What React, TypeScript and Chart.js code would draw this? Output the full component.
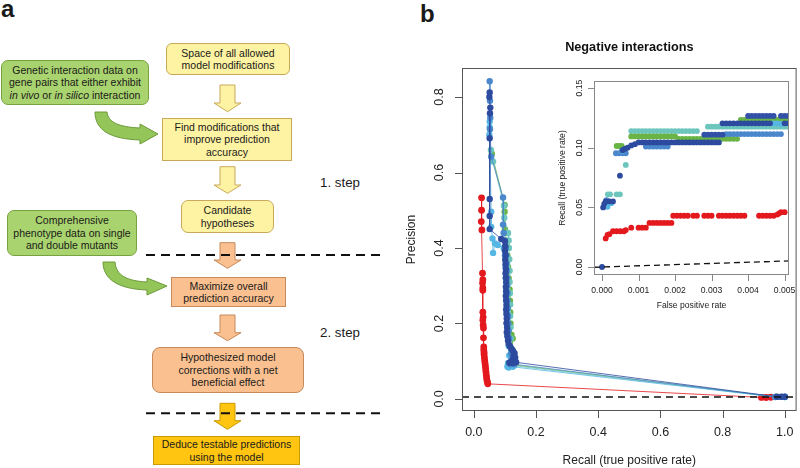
import React, { useEffect, useRef } from "react";
import { Chart, registerables } from "chart.js";

Chart.register(...registerables);

// ---------------- data ----------------
const mainXTicks = [0, 0.2, 0.4, 0.6, 0.8, 1.0];
const mainXTickLabels = ["0.0", "0.2", "0.4", "0.6", "0.8", "1.0"];
const mainYTicks = [0, 0.2, 0.4, 0.6, 0.8];
const mainYTickLabels = ["0.0", "0.2", "0.4", "0.6", "0.8"];
const mainXRange = [-0.038, 1.038];
const mainYRange = [-0.032, 0.877];
const baselinePrecision = 0.0048;

const insetXTicks = [0, 0.001, 0.002, 0.003, 0.004, 0.005];
const insetXTickLabels = ["0.000", "0.001", "0.002", "0.003", "0.004", "0.005"];
const insetYTicks = [0, 0.05, 0.1, 0.15];
const insetYTickLabels = ["0.00", "0.05", "0.10", "0.15"];
const insetXRange = [-0.00022, 0.00512];
const insetYRange = [-0.0067, 0.156];

// main plot: [recall, precision]
const mainRed: number[][] = [
  [0.025, 0.533], [0.025, 0.5], [0.024, 0.47], [0.026, 0.448],
  [0.028, 0.333], [0.029, 0.316], [0.028, 0.307], [0.029, 0.294], [0.029, 0.288],
  [0.029, 0.23], [0.03, 0.217], [0.029, 0.209], [0.03, 0.196], [0.031, 0.188],
  [0.031, 0.162], [0.032, 0.138], [0.032, 0.13], [0.033, 0.124], [0.033, 0.118], [0.034, 0.11],
  [0.035, 0.102], [0.036, 0.095], [0.037, 0.088], [0.038, 0.08], [0.039, 0.072], [0.04, 0.064],
  [0.041, 0.057], [0.042, 0.05], [0.044, 0.044], [0.045, 0.04],
  [0.925, 0.004], [0.94, 0.0038], [0.955, 0.0045],
];
const mainDarkA: number[][] = [
  [0.051, 0.812], [0.05, 0.8], [0.053, 0.772], [0.052, 0.757], [0.051, 0.691], [0.051, 0.53],
  [0.051, 0.485], [0.051, 0.45], [0.088, 0.424],
  [0.1, 0.418], [0.101, 0.405], [0.1, 0.393], [0.102, 0.381], [0.101, 0.369], [0.102, 0.357],
  [0.103, 0.345], [0.102, 0.333], [0.103, 0.321], [0.104, 0.309], [0.103, 0.297], [0.104, 0.285],
  [0.103, 0.273], [0.104, 0.261], [0.105, 0.249], [0.104, 0.237], [0.105, 0.225], [0.106, 0.213],
  [0.105, 0.201], [0.107, 0.189], [0.106, 0.177], [0.108, 0.166], [0.11, 0.155], [0.112, 0.146],
  [0.116, 0.139], [0.121, 0.133], [0.126, 0.127], [0.131, 0.121], [0.128, 0.115], [0.133, 0.11],
  [0.126, 0.105], [0.131, 0.101], [0.12, 0.098], [0.114, 0.096], [0.126, 0.095], [0.136, 0.097],
  [0.975, 0.0056], [0.99, 0.0056], [1.0, 0.0056],
];
const mainSteel: number[][] = [
  [0.051, 0.842], [0.052, 0.79], [0.053, 0.745], [0.052, 0.715], [0.056, 0.642], [0.094, 0.534],
  [0.094, 0.462], [0.096, 0.44], [0.1, 0.42], [0.103, 0.4], [0.104, 0.38], [0.105, 0.36],
  [0.106, 0.34], [0.107, 0.32], [0.107, 0.3], [0.108, 0.28], [0.108, 0.26], [0.109, 0.24],
  [0.11, 0.22], [0.111, 0.2], [0.112, 0.18], [0.114, 0.16], [0.117, 0.14], [0.12, 0.12],
  [0.122, 0.105], [0.118, 0.092], [0.13, 0.092], [0.97, 0.0054], [0.985, 0.0054], [1.0, 0.0054],
];
const mainSky: number[][] = [
  [0.051, 0.735], [0.051, 0.72], [0.05, 0.7], [0.056, 0.496], [0.056, 0.456], [0.06, 0.425],
  [0.062, 0.387], [0.068, 0.412], [0.077, 0.408], [0.096, 0.4], [0.1, 0.38], [0.102, 0.35],
  [0.103, 0.32], [0.104, 0.29], [0.105, 0.26], [0.106, 0.23], [0.107, 0.2], [0.109, 0.17],
  [0.112, 0.14], [0.114, 0.115], [0.11, 0.095], [0.108, 0.086], [0.112, 0.083], [0.125, 0.085],
  [0.97, 0.0052], [1.0, 0.0052],
];
const mainTeal: number[][] = [
  [0.055, 0.66], [0.062, 0.629], [0.097, 0.512], [0.098, 0.48], [0.11, 0.44], [0.112, 0.42],
  [0.113, 0.4], [0.114, 0.37], [0.115, 0.34], [0.115, 0.31], [0.116, 0.28], [0.117, 0.25],
  [0.117, 0.22], [0.118, 0.19], [0.119, 0.16], [0.12, 0.13], [0.122, 0.11], [0.118, 0.092],
  [0.128, 0.088], [0.97, 0.0053], [1.0, 0.0053],
];
const mainGreen: number[][] = [
  [0.058, 0.65], [0.099, 0.514], [0.099, 0.496], [0.1, 0.45], [0.102, 0.44], [0.105, 0.41],
  [0.108, 0.38], [0.11, 0.35], [0.112, 0.32], [0.115, 0.29], [0.116, 0.26], [0.117, 0.23],
  [0.118, 0.2], [0.121, 0.17], [0.125, 0.16], [0.124, 0.13], [0.127, 0.11], [0.13, 0.09],
  [0.975, 0.0055], [1.0, 0.0055],
];

// inset: [false positive rate, recall]
const insetRed: number[][] = [
  [0.0001, 0.024], [0.00015, 0.027], [0.0002, 0.0275],
  [0.0003, 0.03], [0.0004, 0.03], [0.0005, 0.03], [0.0006, 0.03], [0.00065, 0.031],
  [0.0008, 0.033], [0.001, 0.033], [0.0011, 0.033], [0.0012, 0.033],
  [0.0013, 0.037], [0.0014, 0.037], [0.0015, 0.037], [0.0016, 0.037], [0.0017, 0.037], [0.0018, 0.037], [0.0019, 0.037],
  [0.00195, 0.043], [0.00205, 0.043], [0.00215, 0.043], [0.00225, 0.043], [0.00235, 0.043], [0.0025, 0.043], [0.0026, 0.043],
  [0.0028, 0.043], [0.0029, 0.043], [0.003, 0.043], [0.0032, 0.043], [0.0033, 0.043], [0.0034, 0.043], [0.0035, 0.043],
  [0.0036, 0.043], [0.0037, 0.043], [0.0038, 0.043], [0.0039, 0.043],
  [0.0043, 0.043], [0.0044, 0.043], [0.0045, 0.043], [0.0046, 0.043], [0.0047, 0.043], [0.0048, 0.044],
  [0.00485, 0.045], [0.0049, 0.046], [0.005, 0.046],
];
const insetDarkA: number[][] = [
  [0, 0], [0.00003, 0.05], [0.00006, 0.053], [0.0001, 0.055], [0.0002, 0.055], [0.0003, 0.055],
  [0.00049, 0.0766],
  [0.00056, 0.098], [0.00062, 0.099], [0.0007, 0.1], [0.0008, 0.102], [0.0009, 0.103],
  [0.001, 0.1045], [0.0011, 0.1045], [0.0012, 0.1045], [0.0013, 0.1045], [0.0014, 0.1045], [0.0015, 0.1045],
  [0.0016, 0.1045], [0.0017, 0.1045], [0.0018, 0.1045], [0.0019, 0.1045], [0.002, 0.1045], [0.0021, 0.1045],
  [0.0022, 0.1045], [0.0023, 0.1045], [0.0024, 0.1045], [0.0025, 0.1045], [0.0026, 0.1045], [0.0027, 0.1045],
  [0.0028, 0.1045], [0.0029, 0.1045], [0.003, 0.1045], [0.0031, 0.1045], [0.0032, 0.1045],
  [0.0033, 0.1205], [0.0034, 0.1205], [0.0035, 0.1205], [0.0036, 0.1205], [0.0037, 0.1205], [0.0038, 0.1205],
  [0.0039, 0.1205], [0.004, 0.1205], [0.0041, 0.1205], [0.0042, 0.1205], [0.0043, 0.1205], [0.0044, 0.1205],
  [0.0045, 0.1205], [0.0046, 0.1205], [0.005, 0.1205], [0.0051, 0.1205],
];
const insetDarkB: number[][] = [
  [0.0028, 0.111], [0.0029, 0.111], [0.003, 0.111], [0.0031, 0.111], [0.0032, 0.111], [0.0033, 0.111],
  [0.004, 0.1267], [0.0041, 0.1267], [0.0042, 0.1267], [0.0043, 0.1267], [0.0044, 0.1267], [0.0045, 0.1267],
  [0.0046, 0.1267], [0.0047, 0.1267], [0.0049, 0.1267], [0.005, 0.1267], [0.0051, 0.1267],
];
const insetSteel: number[][] = [
  [0.00008, 0.052], [0.00012, 0.056], [0.00038, 0.0954], [0.00047, 0.0954], [0.00056, 0.0954], [0.00065, 0.0954],
  [0.0012, 0.101], [0.0013, 0.101], [0.0014, 0.101], [0.0015, 0.101], [0.0016, 0.101], [0.0017, 0.101], [0.0018, 0.101],
  [0.0034, 0.1115], [0.0035, 0.1115], [0.0036, 0.1115], [0.0037, 0.1115], [0.0038, 0.1115], [0.0039, 0.1115],
  [0.004, 0.1115], [0.0041, 0.1115], [0.0042, 0.1115], [0.0043, 0.1115], [0.0044, 0.1115], [0.0045, 0.1115],
  [0.0046, 0.1115], [0.0047, 0.1115], [0.0048, 0.1115], [0.0049, 0.1115],
];
const insetSky: number[][] = [
  [0.00015, 0.0505], [0.00025, 0.0535], [0.00055, 0.0975], [0.0047, 0.1205], [0.0048, 0.1205], [0.0049, 0.12],
];
const insetTeal: number[][] = [
  [0.00016, 0.061], [0.00022, 0.061], [0.0004, 0.061], [0.00049, 0.061], [0.00065, 0.0856],
  [0.0008, 0.114], [0.0009, 0.114], [0.001, 0.114], [0.0011, 0.114], [0.0012, 0.114], [0.0013, 0.114],
  [0.0014, 0.114], [0.0015, 0.114], [0.0016, 0.114], [0.0017, 0.114], [0.0018, 0.114], [0.0019, 0.114],
  [0.002, 0.114], [0.0021, 0.114], [0.0022, 0.114], [0.0023, 0.114], [0.0024, 0.114], [0.0025, 0.114], [0.0026, 0.114],
  [0.0029, 0.1177], [0.003, 0.1177], [0.0031, 0.1177], [0.0032, 0.1177], [0.0033, 0.1177], [0.0034, 0.1177],
  [0.0035, 0.1177], [0.0036, 0.1177], [0.0037, 0.1177], [0.0038, 0.1177], [0.0039, 0.1177], [0.004, 0.1177],
  [0.0041, 0.1177], [0.0042, 0.1177], [0.0043, 0.1177], [0.0044, 0.1177], [0.0045, 0.1177], [0.0046, 0.1177],
  [0.0047, 0.1177], [0.0048, 0.1177], [0.0049, 0.1177], [0.005, 0.1177], [0.0051, 0.1177],
];
const insetGreen: number[][] = [
  [0.0004, 0.1015], [0.00047, 0.1015], [0.00054, 0.1015],
  [0.0008, 0.1095], [0.0009, 0.1095], [0.001, 0.1095], [0.0011, 0.1095], [0.0012, 0.1095], [0.0013, 0.1095],
  [0.0014, 0.1095], [0.0015, 0.1095], [0.0016, 0.1095], [0.0017, 0.1095], [0.0018, 0.1095], [0.0019, 0.1095],
  [0.002, 0.1095], [0.0021, 0.1075], [0.0022, 0.1075], [0.0023, 0.1075], [0.0024, 0.1075], [0.0025, 0.1075],
  [0.0026, 0.1075], [0.0027, 0.1075], [0.0028, 0.1075], [0.0029, 0.1075], [0.003, 0.1075], [0.0031, 0.1075],
  [0.0032, 0.1075], [0.0033, 0.1075], [0.0034, 0.1075], [0.0035, 0.1075], [0.0036, 0.1075], [0.0037, 0.1075],
  [0.0038, 0.1233], [0.0039, 0.1233], [0.004, 0.1233], [0.0041, 0.1233], [0.0042, 0.1233], [0.0043, 0.1233],
  [0.0044, 0.1233], [0.0045, 0.1233], [0.0046, 0.1233], [0.0047, 0.1233], [0.0048, 0.1233], [0.0049, 0.1233],
  [0.005, 0.1233], [0.0051, 0.1233],
];

// ---------------- styling ----------------
const FONT = '"Liberation Sans", Arial, Helvetica, sans-serif';
const C_RED = "#E3191E";
const C_DARK = "#2C4A9E";
const C_DARK2 = "#3150A8";
const C_STEEL = "#4A87CC";
const C_SKY = "#56B7E4";
const C_TEAL = "#6DC6BD";
const C_GREEN = "#6AB446";

type Cfg = {
  xTicks: number[]; xTickLabels: string[]; yTicks: number[]; yTickLabels: string[];
  tickFont: string; labelFont: string; xTitle: string; yTitle: string;
  title?: string; titleFont?: string; titleY?: number;
  tickLen: number; xTickOff: number; xTitleOff: number; yTickOff: number; yTitleOff: number;
  frame: string;
};

function rAxes(cfg: Cfg) {
  return {
    id: "rAxes",
    afterDraw(chart: any) {
      const { ctx, chartArea: a, scales } = chart;
      const xs = scales.x;
      const ys = scales.y;
      ctx.save();
      ctx.strokeStyle = cfg.frame;
      ctx.lineWidth = 1;
      ctx.strokeRect(a.left + 0.5, a.top + 0.5, a.right - a.left - 1, a.bottom - a.top - 1);
      ctx.beginPath();
      cfg.xTicks.forEach((v) => {
        const px = Math.round(xs.getPixelForValue(v)) + 0.5;
        ctx.moveTo(px, a.bottom);
        ctx.lineTo(px, a.bottom + cfg.tickLen);
      });
      cfg.yTicks.forEach((v) => {
        const py = Math.round(ys.getPixelForValue(v)) + 0.5;
        ctx.moveTo(a.left, py);
        ctx.lineTo(a.left - cfg.tickLen, py);
      });
      ctx.stroke();
      ctx.fillStyle = "#222";
      ctx.textAlign = "center";
      ctx.textBaseline = "middle";
      ctx.font = cfg.tickFont;
      cfg.xTicks.forEach((v, i) => {
        ctx.fillText(cfg.xTickLabels[i], xs.getPixelForValue(v), a.bottom + cfg.xTickOff);
      });
      cfg.yTicks.forEach((v, i) => {
        ctx.save();
        ctx.translate(a.left - cfg.yTickOff, ys.getPixelForValue(v));
        ctx.rotate(-Math.PI / 2);
        ctx.fillText(cfg.yTickLabels[i], 0, 0);
        ctx.restore();
      });
      ctx.font = cfg.labelFont;
      ctx.fillText(cfg.xTitle, (a.left + a.right) / 2, a.bottom + cfg.xTitleOff);
      ctx.save();
      ctx.translate(a.left - cfg.yTitleOff, (a.top + a.bottom) / 2);
      ctx.rotate(-Math.PI / 2);
      ctx.fillText(cfg.yTitle, 0, 0);
      ctx.restore();
      if (cfg.title) {
        ctx.font = cfg.titleFont || cfg.labelFont;
        ctx.fillStyle = "#111";
        ctx.fillText(cfg.title, (a.left + a.right) / 2, cfg.titleY || 0);
      }
      ctx.restore();
    },
  };
}

const pts = (arr: number[][]) => arr.map(([x, y]) => ({ x, y }));

function series(label: string, arr: number[][], color: string, r: number, line: boolean) {
  return {
    label,
    data: pts(arr),
    showLine: line,
    borderColor: color,
    borderWidth: 0.8,
    backgroundColor: color,
    pointBackgroundColor: color,
    pointBorderWidth: 0,
    pointRadius: r,
    pointHoverRadius: r,
  };
}

function Box(props: any) {
  const { l, t, w, h, fill, stroke, r, children } = props;
  return (
    <div
      style={{
        position: "absolute", left: l, top: t, width: w, height: h, boxSizing: "border-box",
        background: fill, border: `1px solid ${stroke}`, borderRadius: r,
        display: "flex", alignItems: "center", justifyContent: "center", textAlign: "center",
        fontSize: 10.5, lineHeight: "12.5px", color: "#1a1a1a", whiteSpace: "nowrap",
      }}
    >
      <div>{children}</div>
    </div>
  );
}

const Y_FILL = "#FEF3A2", Y_STROKE = "#C9A95C";
const G_FILL = "#A9D36E", G_STROKE = "#76A33F";
const P_FILL = "#FBC08F", P_STROKE = "#C68A5B";
const O_FILL = "#FFC510", O_STROKE = "#C99A00";
const GA_FILL = "#93C558", GA_STROKE = "#6E9A3D";

function downArrow(t: number, h: number, p: number) {
  return `M220,${t} L235,${t} L235,${h} L241,${h} L227.5,${p} L214,${h} L220,${h} Z`;
}

export default function App() {
  const mainRef = useRef<HTMLCanvasElement | null>(null);
  const insetRef = useRef<HTMLCanvasElement | null>(null);

  useEffect(() => {
    document.body.style.margin = "0";
    const mainChart = new Chart(mainRef.current as HTMLCanvasElement, {
      type: "scatter",
      data: {
        datasets: [
          {
            label: "baseline",
            data: [
              { x: mainXRange[0], y: baselinePrecision },
              { x: mainXRange[1], y: baselinePrecision },
            ],
            showLine: true, borderColor: "#111", borderWidth: 1.5, borderDash: [7, 5], pointRadius: 0,
          },
          series("dark", mainDarkA, C_DARK, 3.2, true),
          series("steel", mainSteel, C_STEEL, 3.2, true),
          series("sky", mainSky, C_SKY, 3.2, true),
          series("teal", mainTeal, C_TEAL, 3.2, true),
          series("green", mainGreen, C_GREEN, 3.2, true),
          series("red", mainRed, C_RED, 3.4, true),
        ] as any,
      },
      options: {
        animation: false,
        responsive: false,
        maintainAspectRatio: false,
        events: [],
        layout: { padding: { left: 62, right: 1, top: 68, bottom: 57 } },
        scales: {
          x: { type: "linear", min: mainXRange[0], max: mainXRange[1], display: false },
          y: { type: "linear", min: mainYRange[0], max: mainYRange[1], display: false },
        },
        plugins: { legend: { display: false }, tooltip: { enabled: false } },
      },
      plugins: [
        rAxes({
          xTicks: mainXTicks, xTickLabels: mainXTickLabels, yTicks: mainYTicks, yTickLabels: mainYTickLabels,
          tickFont: `12.5px ${FONT}`, labelFont: `12px ${FONT}`,
          xTitle: "Recall (true positive rate)", yTitle: "Precision",
          title: "Negative interactions", titleFont: `bold 12.7px ${FONT}`, titleY: 47,
          tickLen: 7, xTickOff: 21.5, xTitleOff: 50, yTickOff: 22, yTitleOff: 50, frame: "#555",
        }),
      ] as any,
    });

    const insetChart = new Chart(insetRef.current as HTMLCanvasElement, {
      type: "scatter",
      data: {
        datasets: [
          {
            label: "diagonal",
            data: [
              { x: insetXRange[0], y: insetXRange[0] },
              { x: insetXRange[1], y: insetXRange[1] },
            ],
            showLine: true, borderColor: "#111", borderWidth: 1.3, borderDash: [6, 4], pointRadius: 0,
          },
          series("darkA", insetDarkA, C_DARK, 2.9, false),
          series("darkB", insetDarkB, C_DARK2, 2.9, false),
          series("sky", insetSky, C_SKY, 2.9, false),
          series("steel", insetSteel, C_STEEL, 2.9, false),
          series("green", insetGreen, C_GREEN, 2.9, false),
          series("teal", insetTeal, C_TEAL, 2.9, false),
          series("red", insetRed, C_RED, 2.9, false),
        ] as any,
      },
      options: {
        animation: false,
        responsive: false,
        maintainAspectRatio: false,
        events: [],
        layout: { padding: { left: 54, right: 7, top: 11, bottom: 40 } },
        scales: {
          x: { type: "linear", min: insetXRange[0], max: insetXRange[1], display: false },
          y: { type: "linear", min: insetYRange[0], max: insetYRange[1], display: false },
        },
        plugins: { legend: { display: false }, tooltip: { enabled: false } },
      },
      plugins: [
        rAxes({
          xTicks: insetXTicks, xTickLabels: insetXTickLabels, yTicks: insetYTicks, yTickLabels: insetYTickLabels,
          tickFont: `8.6px ${FONT}`, labelFont: `8.6px ${FONT}`,
          xTitle: "False positive rate", yTitle: "Recall (true positive rate)",
          tickLen: 6, xTickOff: 15.7, xTitleOff: 31, yTickOff: 14, yTitleOff: 31, frame: "#888",
        }),
      ] as any,
    });

    return () => {
      mainChart.destroy();
      insetChart.destroy();
    };
  }, []);

  return (
    <div
      style={{
        position: "absolute", left: 0, top: 0, width: 800, height: 468, overflow: "hidden",
        background: "#fff", fontFamily: FONT, color: "#1a1a1a",
      }}
    >
      {/* panel labels */}
      <div style={{ position: "absolute", left: 1, top: -3, fontSize: 24, fontWeight: 700, lineHeight: "24px" }}>a</div>
      <div style={{ position: "absolute", left: 420, top: 2, fontSize: 24, fontWeight: 700, lineHeight: "24px" }}>b</div>

      {/* flowchart boxes */}
      <Box l={166} t={43} w={124} h={32} fill={Y_FILL} stroke={Y_STROKE} r={6}>
        Space of all allowed<br />model modifications
      </Box>
      <Box l={1} t={60} w={148} h={45} fill={G_FILL} stroke={G_STROKE} r={7}>
        Genetic interaction data on<br />gene pairs that either exhibit<br />
        <i>in vivo</i> or <i>in silico</i> interaction
      </Box>
      <Box l={162} t={118} w={130} h={43} fill={Y_FILL} stroke={Y_STROKE} r={0}>
        Find modifications that<br />improve prediction<br />accuracy
      </Box>
      <Box l={181} t={200} w={93} h={33} fill={Y_FILL} stroke={Y_STROKE} r={7}>
        Candidate<br />hypotheses
      </Box>
      <Box l={7} t={210} w={130} h={46} fill={G_FILL} stroke={G_STROKE} r={7}>
        Comprehensive<br />phenotype data on single<br />and double mutants
      </Box>
      <Box l={171} t={277} w={115} h={30} fill={P_FILL} stroke={P_STROKE} r={0}>
        Maximize overall<br />prediction accuracy
      </Box>
      <Box l={152} t={347} w={152} h={46} fill={P_FILL} stroke={P_STROKE} r={8}>
        Hypothesized model<br />corrections with a net<br />beneficial effect
      </Box>
      <Box l={153} t={436} w={147} h={29} fill={O_FILL} stroke={O_STROKE} r={0}>
        Deduce testable predictions<br />using the model
      </Box>

      {/* arrows and separators */}
      <svg width={400} height={468} style={{ position: "absolute", left: 0, top: 0, pointerEvents: "none" }}>
        <path d={downArrow(85, 103, 111.7)} fill={Y_FILL} stroke={Y_STROKE} strokeWidth={1} />
        <path d={downArrow(166.7, 185, 193.3)} fill={Y_FILL} stroke={Y_STROKE} strokeWidth={1} />
        <path d={downArrow(242.7, 260, 268.3)} fill={P_FILL} stroke={P_STROKE} strokeWidth={1} />
        <path d={downArrow(315, 332.7, 340.7)} fill={P_FILL} stroke={P_STROKE} strokeWidth={1} />
        <path d={downArrow(403.3, 420.7, 429.3)} fill={O_FILL} stroke={O_STROKE} strokeWidth={1} />
        <path
          d="M95,112 C95,130 110,139 140,140 L140,144 L158,134 L140,124 L140,128 C118,127 108,122 107,112 Z"
          fill={GA_FILL} stroke={GA_STROKE} strokeWidth={1}
        />
        <path
          d="M103,262 C103,279 118,289 147,290 L147,295 L167,286 L147,278 L147,282 C128,281 116,276 115,262 Z"
          fill={GA_FILL} stroke={GA_STROKE} strokeWidth={1}
        />
        <line x1={146} y1={255} x2={384} y2={255} stroke="#111" strokeWidth={2} strokeDasharray="9 6" />
        <line x1={146} y1={413.3} x2={384} y2={413.3} stroke="#111" strokeWidth={2} strokeDasharray="9 6" />
      </svg>

      <div style={{ position: "absolute", left: 320, top: 182, transform: "translateY(-50%)", fontSize: 13.3, whiteSpace: "nowrap" }}>
        1. step
      </div>
      <div style={{ position: "absolute", left: 320, top: 332, transform: "translateY(-50%)", fontSize: 13.3, whiteSpace: "nowrap" }}>
        2. step
      </div>

      {/* chart canvases */}
      <canvas ref={mainRef} width={400} height={468} style={{ position: "absolute", left: 400, top: 0, width: 400, height: 468 }} />
      <canvas ref={insetRef} width={256} height={245} style={{ position: "absolute", left: 540, top: 70, width: 256, height: 245 }} />
    </div>
  );
}
